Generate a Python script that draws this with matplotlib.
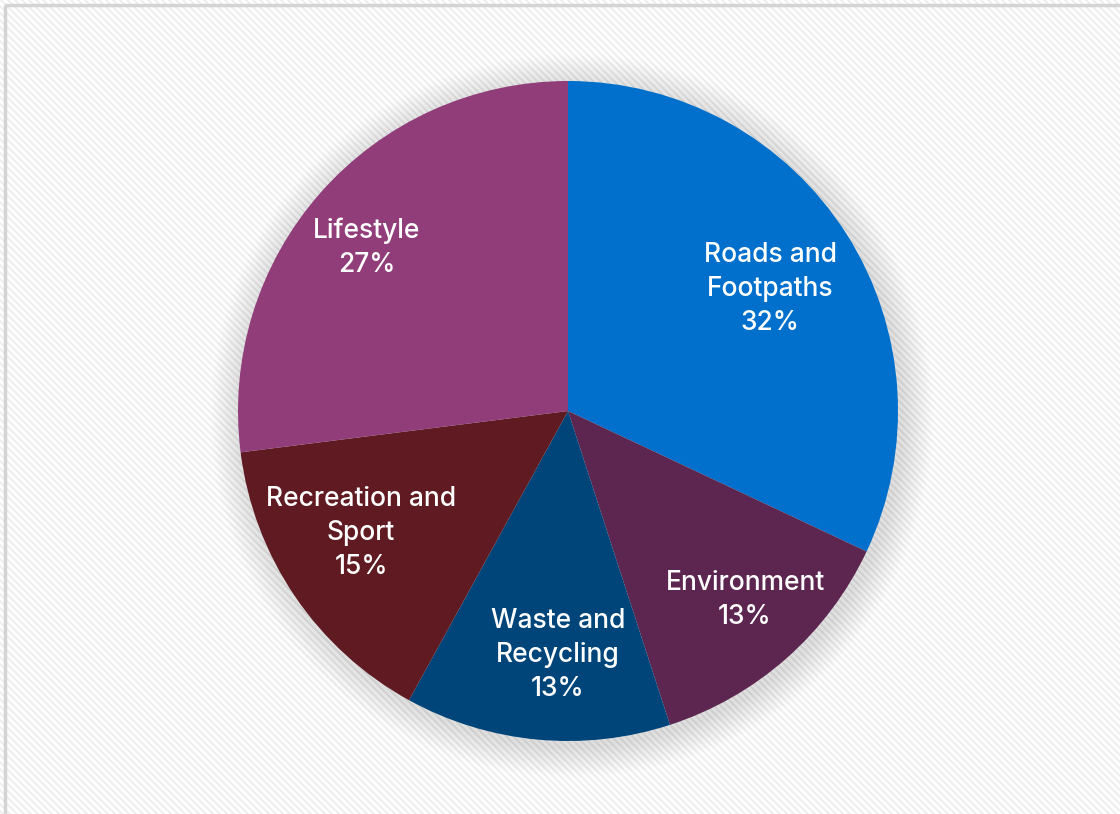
import matplotlib.pyplot as plt
import numpy as np
from matplotlib.patches import Circle, Rectangle

# Spending categories and their shares (%)
categories = ["Roads and\nFootpaths", "Environment", "Waste and\nRecycling",
              "Recreation and\nSport", "Lifestyle"]
shares = [32, 13, 13, 15, 27]
colors = ["#0070CC", "#5C2650", "#00457A", "#5F1A22", "#913D7A"]

plt.rcParams['font.family'] = ['Inter', 'DejaVu Sans']

W, H = 1120, 814
fig = plt.figure(figsize=(W / 100, H / 100), dpi=100)

# faint diagonal stripe texture behind everything
bg = fig.add_axes([0, 0, 1, 1])
yy, xx = np.mgrid[0:H, 0:W]
stripes = ((xx - yy) % 7) < 3
tex = np.where(stripes, 0.935, 1.0)
bg.imshow(tex, cmap="gray", vmin=0, vmax=1, extent=(0, W, H, 0), aspect="auto",
          interpolation="bilinear")
bg.add_patch(Rectangle((4.5, 4.5), W + 10, H + 10, fill=False,
                       edgecolor="#d4d4d4", linewidth=2.5))
bg.set_xlim(0, W)
bg.set_ylim(H, 0)
bg.axis("off")

# pie axes: centre (568, 411), radius 330 px
cx, cy, r = 568, 411, 330
ax = fig.add_axes([(cx - r) / W, (H - cy - r) / H, 2 * r / W, 2 * r / H])

# soft drop shadow
for i in range(16):
    ax.add_patch(Circle((0.012, -0.014), 1.0 + 0.006 * (16 - i), color="black",
                        alpha=0.007, linewidth=0, zorder=0, clip_on=False))

wedges, texts = ax.pie(shares, colors=colors, startangle=90, counterclock=False,
                       radius=1.0, wedgeprops=dict(linewidth=0))
ax.set_xlim(-1, 1)
ax.set_ylim(-1, 1)
ax.set_aspect("auto")
ax.axis("off")

label_pos = [(770, 289), (745, 600), (558, 655), (361, 533), (367, 248)]
for name, val, (lx, ly) in zip(categories, shares, label_pos):
    ax.text((lx - cx) / r, (cy - ly) / r, f"{name}\n{val}%", ha="center",
            va="center", color="white", fontsize=19, fontweight="medium",
            linespacing=1.42)

fig.savefig("out.png", dpi=100)
